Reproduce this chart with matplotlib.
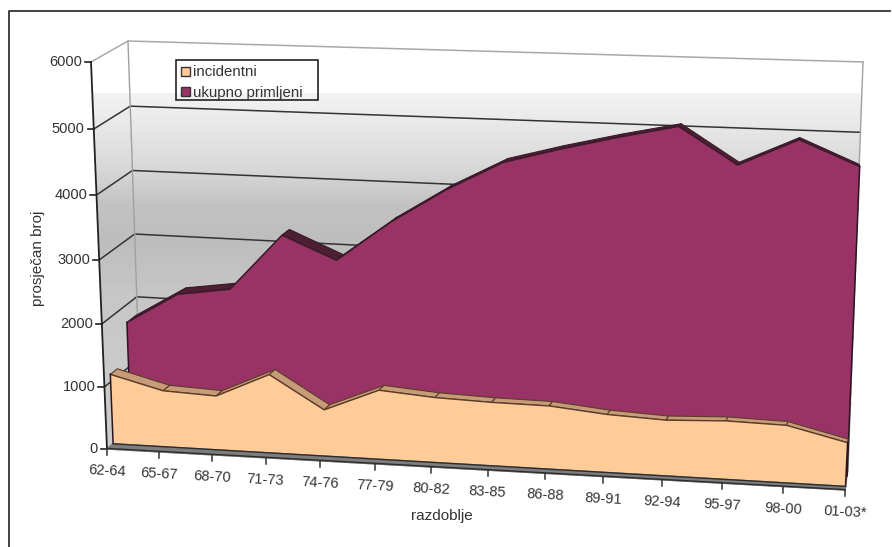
import numpy as np
import matplotlib
matplotlib.use("Agg")
import matplotlib.pyplot as plt
from matplotlib.patches import Polygon, Rectangle
from matplotlib.transforms import Transform

plt.rcParams['font.family'] = ['Liberation Sans', 'DejaVu Sans']

periods = ["62-64", "65-67", "68-70", "71-73", "74-76", "77-79", "80-82",
           "83-85", "86-88", "89-91", "92-94", "95-97", "98-00", "01-03*"]
incidentni = [1120, 900, 860, 1240, 730, 1080, 1010, 980, 970, 885, 845, 880, 860, 650]
primljeni = [1720, 2210, 2330, 3210, 2860, 3480, 4000, 4435, 4660, 4860, 5040, 4510, 4900, 4545]
y_ticks = [0, 1000, 2000, 3000, 4000, 5000, 6000]

YMAX = 6000
N = len(periods) - 1

# corners of the 3D box on the image: left-bottom, right-bottom, right-top, left-top
FRONT = np.array([[107, 449], [845, 490], [866, 66], [91, 62]], dtype=float)
BACK = np.array([[141, 420], [848, 470], [863, 62], [128, 41]], dtype=float)


class Plane(Transform):
    """(period index, value) -> image position on a plane at some depth of the box"""
    input_dims = 2
    output_dims = 2

    def __init__(self, depth):
        super().__init__()
        dst = FRONT + (BACK - FRONT) * depth
        src = np.array([[0, 0], [N, 0], [N, YMAX], [0, YMAX]], dtype=float)
        rows, rhs = [], []
        for (a, b), (c, d) in zip(src, dst):
            rows.append([a, b, 1, 0, 0, 0, -a * c, -b * c])
            rows.append([0, 0, 0, a, b, 1, -a * d, -b * d])
            rhs += [c, d]
        self.h = np.append(np.linalg.solve(np.array(rows), np.array(rhs)), 1).reshape(3, 3)

    def transform_non_affine(self, values):
        pts = np.c_[values, np.ones(len(values))] @ self.h.T
        return pts[:, :2] / pts[:, 2:]


def pos(depth, xs, vs):
    return Plane(depth).transform(np.c_[xs, vs])


fig = plt.figure(figsize=(8.92, 5.47), dpi=100)
ax = fig.add_axes([0, 0, 1, 1])

xs = np.arange(len(periods))
zeros = np.zeros(len(xs))

# walls with the horizontal grey banding
stops_y = [0, 92, 93, 130, 170, 205, 240, 300, 450]
stops_c = [1, 1, 0.95, 0.90, 0.84, 0.76, 0.74, 0.78, 0.80]
grad = np.interp(np.arange(547), stops_y, stops_c).reshape(-1, 1)
img = ax.imshow(grad, cmap='gray', vmin=0, vmax=1, extent=[0, 892, 547, 0], aspect='auto', zorder=1)
walls = np.vstack([pos(0, [0, 0], [0, YMAX]), pos(1, [0, N, N], [YMAX, YMAX, 0]), pos(1, [0], [0])])
clip = Polygon(walls, transform=ax.transData, fc='none', ec='none')
ax.add_patch(clip)
img.set_clip_path(clip)

# floor
floor = np.vstack([pos(0, [0, N], [0, 0]), pos(1, [N, 0], [0, 0])])
ax.fill(floor[:, 0], floor[:, 1], color='#8c8c8c', zorder=2)

# gridlines on side and back wall
for v in y_ticks[1:]:
    side = np.vstack([pos(0, [0], [v]), pos(1, [0, N], [v, v])])
    c = '#a8a8a8' if v == YMAX else '#333333'
    ax.plot(side[:, 0], side[:, 1], color=c, lw=1.1, zorder=3)
for d, i in [(1, 0), (1, N)]:
    edge = pos(d, [i, i], [0, YMAX])
    ax.plot(edge[:, 0], edge[:, 1], color='#a0a0a0', lw=1.0, zorder=3)

# left axis with ticks and labels
edge = pos(0, [0, 0], [0, YMAX])
ax.plot(edge[:, 0], edge[:, 1], color='#222222', lw=1.3, zorder=4)
for v in y_ticks:
    p = pos(0, [0], [v])[0]
    ax.plot([p[0] - 6, p[0]], [p[1], p[1]], color='#222222', lw=1.2, zorder=4)
    ax.text(p[0] - 9, p[1], str(v), ha='right', va='center', fontsize=10.5, color='#333333', zorder=6)


def draw_area(values, d_face, d_back, face, top, line, zorder):
    # dark/tan strip for the top of the area, then the front face
    for i in range(N):
        a = pos(d_face, [i, i + 1], values[i:i + 2])
        b = pos(d_back, [i + 1, i], [values[i + 1], values[i]])
        ax.add_patch(Polygon(np.vstack([a, b]), fc=top, ec=line, lw=0.8, zorder=zorder))
    outline = pos(d_face, xs, values)
    base = pos(d_face, xs[::-1], zeros)
    ax.add_patch(Polygon(np.vstack([outline, base]), fc=face, ec='none', zorder=zorder + 0.1))
    ax.plot(outline[:, 0], outline[:, 1], color=line, lw=1.0, zorder=zorder + 0.2)
    for i in (0, N):
        side = pos(d_face, [i, i], [0, values[i]])
        ax.plot(side[:, 0], side[:, 1], color='#2a1420', lw=1.1, zorder=zorder + 0.2)


draw_area(primljeni, 0.7, 0.95, '#993366', '#4d1f33', '#3a1a28', 5)
draw_area(incidentni, 0.18, 0.38, '#ffcc99', '#c79a78', '#5a3c28', 7)

# front strip under the areas
strip = np.vstack([pos(0, [0, N], [0, 0]), pos(0.18, [N, 0], [0, 0])])
ax.fill(strip[:, 0], strip[:, 1], color='#7d7d7d', zorder=8)
for d in (0.02, 0.18):
    line = pos(d, [0, N], [0, 0])
    ax.plot(line[:, 0], line[:, 1], color='#2c2c2c', lw=1.0, zorder=8.1)

# category ticks and labels
for i, lab in enumerate(periods):
    p = pos(0, [i], [0])[0]
    ax.plot([p[0], p[0]], [p[1], p[1] + 6], color='#333333', lw=1.1, zorder=8)
    ax.text(p[0], p[1] + 22, lab, ha='center', va='center', rotation=-3, fontsize=10.5,
            color='#333333', rotation_mode='anchor', zorder=8)

ax.text(442, 516, "razdoblje", ha='center', va='center', fontsize=11, color='#333333')
ax.text(38, 258, "prosječan broj", ha='center', va='center', rotation=90, fontsize=11, color='#333333')

# legend
ax.add_patch(Rectangle((176, 60), 142, 40, fc='none', ec='#222222', lw=1.2, zorder=9))
ax.add_patch(Rectangle((181, 67), 9, 9, fc='#ffcc99', ec='#333333', lw=1.0, zorder=9))
ax.add_patch(Rectangle((181, 87), 9, 9, fc='#993366', ec='#333333', lw=1.0, zorder=9))
ax.text(193, 72, "incidentni", va='center', fontsize=10.8, color='#333333', zorder=9)
ax.text(193, 93, "ukupno primljeni", va='center', fontsize=10.8, color='#333333', zorder=9)

# outer frame, only left and top reach the picture
ax.plot([8.5, 8.5, 890], [547, 11, 11], color='#333333', lw=1.3, zorder=9)

ax.set_xlim(0, 892)
ax.set_ylim(547, 0)
ax.axis('off')

plt.savefig("out.png", dpi=100)
plt.close()
